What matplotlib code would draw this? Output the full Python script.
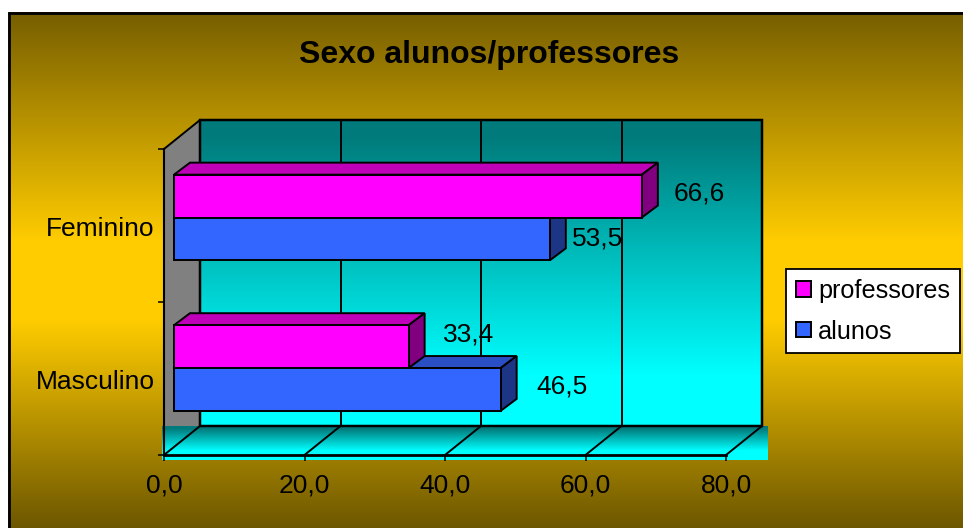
import numpy as np
from matplotlib import pyplot as plt
from matplotlib.patches import Polygon, Rectangle
from matplotlib.transforms import Affine2D, IdentityTransform

categories = ['Masculino', 'Feminino']
professores = [33.4, 66.6]
alunos = [46.5, 53.5]
professores_labels = ['33,4', '66,6']
alunos_labels = ['46,5', '53,5']
x_ticks = [0, 20, 40, 60, 80]
x_tick_labels = ['0,0', '20,0', '40,0', '60,0', '80,0']

W, H = 963, 528
PINK, PINK_TOP, PINK_SIDE = '#ff00ff', '#c000b8', '#800080'
BLUE, BLUE_TOP, BLUE_SIDE = '#3366ff', '#2a4fc4', '#1c3585'
FONT = 19

plt.rcParams['font.family'] = ['Liberation Sans', 'DejaVu Sans']
fig = plt.figure(figsize=(W / 100, H / 100), dpi=100, facecolor='white')


def gradient(ys, stops, colors):
    """Vertical RGB gradient, one row per pixel."""
    rows = np.stack([np.interp(ys, stops, [c[i] for c in colors]) for i in range(3)], axis=1)
    return rows[:, None, :] / 255.0


def paint(x0, y0, x1, y1, stops, colors, zorder):
    # y measured from the top of the image
    ys = np.arange(y0, y1)
    img = np.repeat(gradient(ys, stops, colors), x1 - x0, axis=1)
    fig.figimage(img, xo=x0, yo=H - y1, origin='upper', zorder=zorder)


DARK_GOLD, GOLD = (118, 94, 0), (255, 204, 0)
TEAL, CYAN = (0, 122, 122), (0, 255, 255)

paint(8, 12, W, H, [12, 240, 320, 528], [DARK_GOLD, GOLD, GOLD, (108, 86, 0)], -3)
paint(200, 120, 763, 427, [135, 375], [TEAL, CYAN], -2)

# front plane of the chart box, everything else is offset from it in pixels
ax = fig.add_axes([164 / W, 1 - 455 / H, (726 - 164) / W, (455 - 149) / H])
ax.patch.set_alpha(0)
ax.set_zorder(1)
ax.set_xlim(0, 80)
ax.set_ylim(0, 2)

BACK = (36, 29)
SHIFT = (10, 8)
DEPTH = (16, 12)
LW = 1.4
identity = IdentityTransform()


def px(x, y, off=(0, 0)):
    p = ax.transData.transform((x, y))
    return (p[0] + off[0], p[1] + off[1])


def poly(points, color, zorder=2, lw=LW, edge='black'):
    ax.add_patch(Polygon(points, closed=True, facecolor=color, edgecolor=edge, linewidth=lw,
                         transform=identity, zorder=zorder, joinstyle='miter', clip_on=False))


def line(a, b, zorder=2, lw=LW):
    ax.add_line(plt.Line2D([a[0], b[0]], [a[1], b[1]], color='black', linewidth=lw,
                           transform=identity, zorder=zorder, clip_on=False))


# left wall stops where the floor band begins
poly([px(0, 0, (0, BACK[1])), px(0, 0, BACK), px(0, 2, BACK), px(0, 2)], '#808080', zorder=1, lw=0, edge='none')
paint(162, 426, 768, 460, [428, 450], [TEAL, CYAN], -1)

line(px(0, 2), px(0, 2, BACK))
ax.add_patch(Rectangle(px(0, 0, BACK), px(80, 0)[0] - px(0, 0)[0], px(0, 2)[1] - px(0, 0)[1],
                       fill=False, edgecolor='black', linewidth=LW + 0.4, transform=identity,
                       zorder=2, clip_on=False))
for t in x_ticks:
    line(px(t, 0), px(t, 0, BACK))
    line(px(t, 0, BACK), px(t, 2, BACK))

# bars: front faces go through the axes with a pixel offset
bar_tf = ax.transData + Affine2D().translate(*SHIFT)
bar_h = 0.28
bar_centres = np.array([0.516, 1.50])
label_y = [0.5, 1.5]


def draw_bars(values, y_list, face, top, side, label, zorder):
    back = (SHIFT[0] + DEPTH[0], SHIFT[1] + DEPTH[1])
    for v, y in zip(values, y_list):
        y0, y1 = y - bar_h / 2, y + bar_h / 2
        poly([px(0, y1, SHIFT), px(v, y1, SHIFT), px(v, y1, back), px(0, y1, back)], top, zorder=zorder)
        poly([px(v, y0, SHIFT), px(v, y0, back), px(v, y1, back), px(v, y1, SHIFT)], side, zorder=zorder)
    return ax.barh(y_list, values, height=bar_h, left=0, color=face, edgecolor='black',
                   linewidth=LW, transform=bar_tf, zorder=zorder + 0.1, label=label, clip_on=False)


blue_y = bar_centres - bar_h / 2
pink_y = bar_centres + bar_h / 2
blue_bars = draw_bars(alunos, blue_y, BLUE, BLUE_TOP, BLUE_SIDE, 'alunos', 3)
pink_bars = draw_bars(professores, pink_y, PINK, PINK_TOP, PINK_SIDE, 'professores', 4)
ax.set_xlim(0, 80)
ax.set_ylim(0, 2)

# value labels sit beside the bars, each with its own nudge in pixels
pink_nudges = [(34, 12), (32, 3)]
blue_nudges = [(36, 3), (22, 0)]
for values, ys, texts, nudges in [(alunos, blue_y, alunos_labels, blue_nudges),
                                  (professores, pink_y, professores_labels, pink_nudges)]:
    for v, y, txt, nudge in zip(values, ys, texts, nudges):
        p = px(v, y, SHIFT)
        ax.text(p[0] + nudge[0], p[1] + nudge[1], txt, transform=identity, fontsize=FONT,
                ha='left', va='center', color='black', zorder=6)

ax.set_xticks(x_ticks, x_tick_labels, fontsize=FONT)
ax.set_yticks([0, 1, 2])
ax.set_yticklabels([])
ax.tick_params(axis='x', length=4, width=1.1, pad=9.5, color='black')
ax.tick_params(axis='y', length=4, width=1.1, color='black')
for s in ('top', 'right'):
    ax.spines[s].set_visible(False)
ax.spines['left'].set_linewidth(1.5)
ax.spines['bottom'].set_linewidth(2)
for y, name in zip(label_y, categories):
    ax.annotate(name, (0, y), xytext=(-6.8, -2.2), textcoords='offset points', fontsize=FONT,
                ha='right', va='center')

fig.text(489 / W, 1 - 55 / H, 'Sexo alunos/professores', fontsize=23, fontweight='bold',
         ha='center', va='center', color='black')

leg = fig.legend(handles=[pink_bars, blue_bars], labels=['professores', 'alunos'],
                 loc='upper left', bbox_to_anchor=(786 / W, 1 - 269 / H), bbox_transform=fig.transFigure,
                 fontsize=18.2, frameon=True, fancybox=False, framealpha=1, edgecolor='black',
                 handlelength=0.58, handleheight=0.58, handletextpad=0.31, labelspacing=0.66,
                 borderpad=0.39, borderaxespad=0)
leg.get_frame().set_linewidth(1.3)
leg.set_zorder(7)

# outer chart frame, open past the right and bottom image edges
fig.add_artist(plt.Line2D([8.5, 8.5], [0, H - 12], color='black', linewidth=2, transform=identity,
                          zorder=8, solid_capstyle='butt'))
fig.add_artist(plt.Line2D([7.5, W], [H - 12.5, H - 12.5], color='black', linewidth=2, transform=identity,
                          zorder=8, solid_capstyle='butt'))

fig.savefig('out.png', dpi=100)
